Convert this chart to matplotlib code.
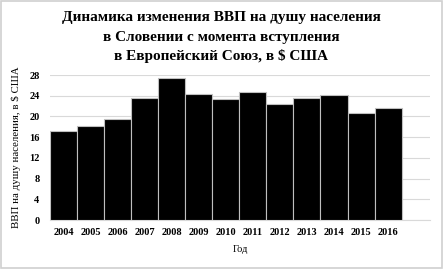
import matplotlib
matplotlib.use("Agg")
import matplotlib.pyplot as plt
from matplotlib.patches import Rectangle

years = ["2004", "2005", "2006", "2007", "2008", "2009", "2010", "2011",
         "2012", "2013", "2014", "2015", "2016"]
gdp = [17.2, 18.1, 19.5, 23.6, 27.4, 24.4, 23.3, 24.8, 22.4, 23.5, 24.1, 20.7, 21.6]
yticks = [0, 4, 8, 12, 16, 20, 24, 28]
title_lines = ["Динамика изменения ВВП на душу населения",
               "в Словении с момента вступления",
               "в Европейский Союз, в $ США"]

plt.rcParams['font.family'] = ['Liberation Serif', 'DejaVu Serif']

W, H = 443, 269
fig = plt.figure(figsize=(W / 100, H / 100), dpi=100)
fig.patches.append(Rectangle((0.003, 0.004), 0.994, 0.992, transform=fig.transFigure,
                             fill=False, edgecolor='#d0d0d0', linewidth=1.2))

ax = fig.add_axes([50 / W, 1 - 220 / H, 380 / W, 145 / H])
x = list(range(len(years)))
ax.bar(x, gdp, width=1.0, color='black', edgecolor='#bfbfbf', linewidth=0.8, zorder=3)
ax.set_xlim(-0.5, 13.55)
ax.set_ylim(0, 28)
ax.set_yticks(yticks)
ax.set_yticklabels([str(v) for v in yticks], fontsize=7.5, fontweight='bold')
ax.set_xticks(x)
ax.set_xticklabels(years, fontsize=7.5, fontweight='bold')
ax.tick_params(axis='x', length=0, pad=6)
ax.tick_params(axis='y', length=0, pad=7.5)
ax.grid(axis='y', color='#d9d9d9', linewidth=0.8, zorder=0)
for s in ['top', 'right', 'left']:
    ax.spines[s].set_visible(False)
ax.spines['bottom'].set_color('#d9d9d9')
ax.set_xlabel("Год", fontsize=7.5, labelpad=5.5)
ax.set_ylabel("ВВП на душу населения, в $ США", fontsize=7.8, labelpad=6)

for yy, line in zip([18, 37, 55.5], title_lines):
    fig.text(221.5 / W, 1 - yy / H, line, ha='center', va='center',
             fontsize=11, fontweight='bold')

fig.savefig("out.png", dpi=100)
